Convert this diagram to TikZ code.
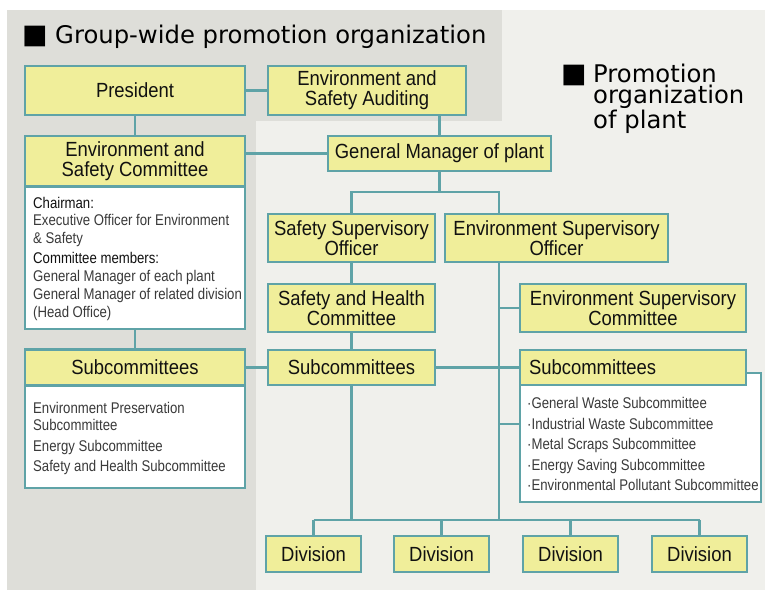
\documentclass[tikz,border=0pt]{standalone}
\usepackage{fontspec}
\setmainfont{Liberation Sans}
\newfontfamily\boxfont[FakeStretch=0.9]{Liberation Sans}
\newfontfamily\notefont[FakeStretch=0.85]{Liberation Sans}
\newfontfamily\headfont{DejaVu Sans}

\definecolor{panelA}{HTML}{DEDED9}
\definecolor{panelB}{HTML}{F0F0EC}
\definecolor{boxfill}{HTML}{F0EE9A}
\definecolor{rule}{HTML}{5FA3A7}
\definecolor{ink}{HTML}{111111}
\definecolor{notegray}{HTML}{3A3A3A}

\tikzset{
  orgbox/.style={draw=rule, line width=2.6pt, fill=boxfill, inner sep=0pt,
    align=center, text=ink, font=\boxfont\fontsize{20.5}{20.3}\selectfont},
  notebox/.style={draw=rule, line width=2.6pt, fill=white, inner sep=0pt},
  notetext/.style={inner sep=0pt, align=left, anchor=north west, text=notegray,
    font=\notefont\fontsize{15.5}{17.5}\selectfont},
  link/.style={draw=rule, line width=2.6pt},
  heading/.style={inner sep=0pt, text=black, align=left,
    font=\headfont\fontsize{24.3}{21}\selectfont},
  divbox/.style={orgbox, minimum width=95pt, minimum height=36pt},
}

\begin{document}
\begin{tikzpicture}[x=1pt,y=-1pt]
\useasboundingbox (0,0) rectangle (765,590);
\fill[white] (0,0) rectangle (765,590);

% background panels: group-wide (darker) and plant (lighter)
\fill[panelB] (502,10) rectangle (765,121);
\fill[panelB] (256,121) rectangle (765,590);
\fill[panelA] (7,10) rectangle (502,121);
\fill[panelA] (7,121) rectangle (256,590);

% headings
\node[heading, anchor=base west] (gsq) at (22,43) {\fontsize{27}{27}\selectfont ■};
\node[heading, anchor=base west] (gtitle) at (55,43) {Group-wide promotion organization};
\node[heading, anchor=base west] (psq) at (561,82) {\fontsize{27}{27}\selectfont ■};
\node[heading, anchor=north west] (ptitle) at (593,64) {Promotion\\organization\\of plant};

% white detail panels (drawn first so headers sit on top)
\node[notebox, minimum width=220pt, minimum height=142pt] (escbody) at (135,258) {};
\node[notebox, minimum width=220pt, minimum height=102pt] (sub1body) at (135,437) {};
\node[notebox, minimum width=241pt, minimum height=129pt] (sub3body) at (640.5,437.5) {};

% group-wide boxes
\node[orgbox, minimum width=220pt, minimum height=49pt] (pres) at (135,90.5) {President};
\node[orgbox, minimum width=198pt, minimum height=49pt] (audit) at (367,90.5) {Environment and\\Safety Auditing};
\node[orgbox, minimum width=220pt, minimum height=50pt] (esc) at (135,161) {Environment and\\Safety Committee};
\node[orgbox, minimum width=220pt, minimum height=36pt] (sub1) at (135,367.5) {Subcommittees};

% plant boxes
\node[orgbox, minimum width=223pt, minimum height=35pt] (gm) at (439.5,153.5) {General Manager of plant};
\node[orgbox, minimum width=167pt, minimum height=48pt] (sso) at (351.5,238) {Safety Supervisory\\Officer};
\node[orgbox, minimum width=223pt, minimum height=48pt] (eso) at (556.5,238) {Environment Supervisory\\Officer};
\node[orgbox, minimum width=167pt, minimum height=48pt] (shc) at (351.5,308) {Safety and Health\\Committee};
\node[orgbox, minimum width=226pt, minimum height=48pt] (evc) at (633,308) {Environment Supervisory\\Committee};
\node[orgbox, minimum width=167pt, minimum height=35pt] (sub2) at (351.5,367.5) {Subcommittees};
\node[orgbox, minimum width=226pt, minimum height=35pt, text width=208pt, align=left] (sub3) at (633,367.5) {Subcommittees};
\node[divbox] (div1) at (313.5,554) {Division};
\node[divbox] (div2) at (441.5,554) {Division};
\node[divbox] (div3) at (570.5,554) {Division};
\node[divbox] (div4) at (699.5,554) {Division};

% detail texts
\node[notetext] (escnote) at (33,197) {{\color{ink}Chairman:}\\
Executive Officer for Environment\\
\& Safety\\[3pt]
{\color{ink}Committee members:}\\
General Manager of each plant\\[1pt]
General Manager of related division\\
(Head Office)};
\node[notetext] (sub1note) at (33,402) {Environment Preservation\\
Subcommittee\\[3pt]
Energy Subcommittee\\[3pt]
Safety and Health Subcommittee};
\node[notetext, font=\notefont\fontsize{15.5}{20.6}\selectfont] (sub3note) at (527,397) {·General Waste Subcommittee\\
·Industrial Waste Subcommittee\\
·Metal Scraps Subcommittee\\
·Energy Saving Subcommittee\\
·Environmental Pollutant Subcommittee};

% junction points
\coordinate (fork) at (439.5,192);
\coordinate (bus) at (499,520);
\coordinate (tap) at (499,424);

% connectors
\draw[link] (pres.east) -- (audit.west);
\draw[link] (pres.south) -- (esc.north);
\draw[link] (gm.west) -- (gm.west -| esc.east);
\draw[link] (gm.north) -- (gm.north |- audit.south);
\draw[link] (gm.south) -- (fork);
\draw[link] (sso.north) -- (sso.north |- fork) -- (fork -| bus) -- (bus |- eso.north);
\draw[link] (bus |- eso.south) -- (bus);
\draw[link] (bus |- evc.west) -- (evc.west);
\draw[link] (tap) -- (tap -| sub3body.west);
\draw[link] (sso.south) -- (shc.north);
\draw[link] (shc.south) -- (sub2.north);
\draw[link] (escbody.south) -- (sub1.north);
\draw[link] (sub1.east) -- (sub2.west);
\draw[link] (sub2.east) -- (sub3.west);
\draw[link] (sub2.south) -- (sub2.south |- bus);
\draw[link] (div1.north |- bus) -- (div4.north |- bus);
\foreach \d in {div1,div2,div3,div4}
  \draw[link] (\d.north) -- (\d.north |- bus);
\end{tikzpicture}
\end{document}
